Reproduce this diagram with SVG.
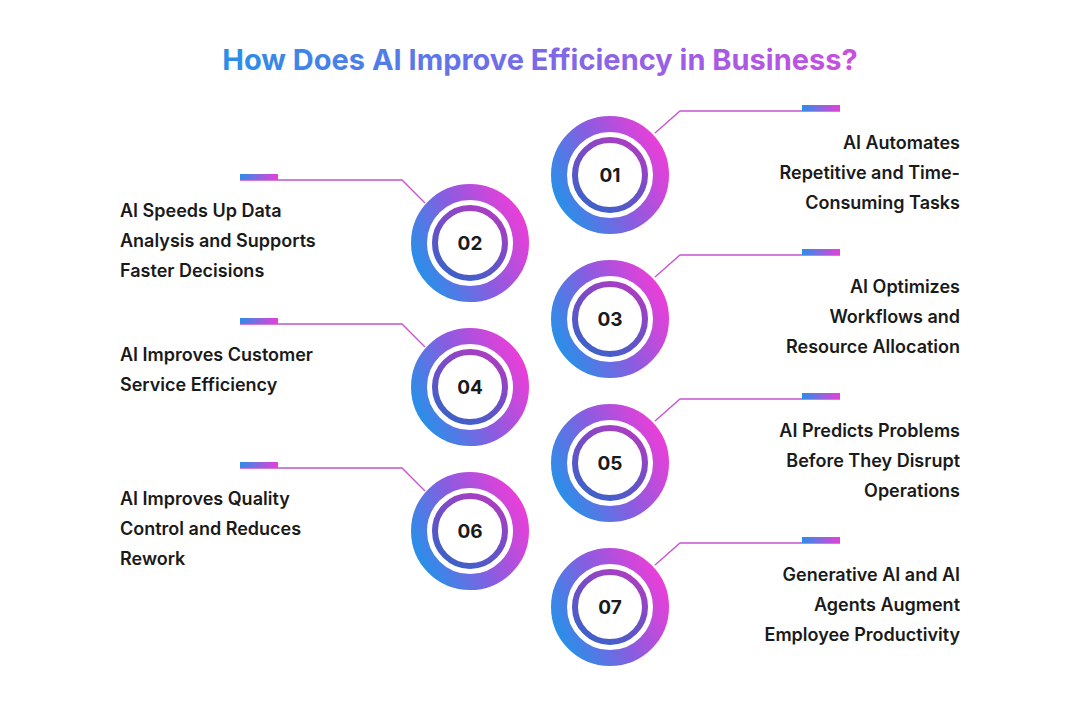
<svg xmlns="http://www.w3.org/2000/svg" width="1080" height="707" viewBox="0 0 1080 707">
<defs>
<linearGradient id="g" x1="0" y1="0.75" x2="1" y2="0.25"><stop offset="0" stop-color="#2b8ee8"/><stop offset="0.5" stop-color="#8a5ce0"/><stop offset="1" stop-color="#e83fd8"/></linearGradient>
<linearGradient id="gi" x1="0.2" y1="1" x2="0.8" y2="0"><stop offset="0" stop-color="#3a63c8"/><stop offset="0.5" stop-color="#6e4fc8"/><stop offset="1" stop-color="#b03cc0"/></linearGradient>
<linearGradient id="gb" x1="0" y1="0" x2="1" y2="0"><stop offset="0" stop-color="#2b8ee8"/><stop offset="1" stop-color="#e83fd8"/></linearGradient>
<linearGradient id="gt" x1="0" y1="0" x2="1" y2="0"><stop offset="0" stop-color="#2b8ee8"/><stop offset="0.5" stop-color="#7a6ae8"/><stop offset="1" stop-color="#c94fe0"/></linearGradient>
<g id="c"><circle r="51" fill="none" stroke="url(#g)" stroke-width="16"/><circle r="35" fill="none" stroke="url(#gi)" stroke-width="6"/></g>
</defs>
<style>
.t{font-family:Inter,"Noto Sans",sans-serif;font-size:18px;font-weight:600;fill:#1a1a1a}
.r{text-anchor:end}
.n{font-family:Inter,"Noto Sans",sans-serif;font-size:19px;font-weight:700;fill:#1a1a1a;text-anchor:middle}
.l{fill:none;stroke:#c850d0;stroke-width:1.3}
</style>
<rect width="1080" height="707" fill="#fff"/>
<text x="540" y="70" text-anchor="middle" font-family="Inter,'Noto Sans',sans-serif" font-size="29" font-weight="700" fill="url(#gt)">How Does AI Improve Efficiency in Business?</text>
<g id="connectors">
<path class="l" d="M655 133 L680 111 H840"/><rect x="802" y="105" width="38" height="6" fill="url(#gb)"/>
<path class="l" d="M655 277 L680 255 H840"/><rect x="802" y="249" width="38" height="6" fill="url(#gb)"/>
<path class="l" d="M655 421 L680 399 H840"/><rect x="802" y="393" width="38" height="6" fill="url(#gb)"/>
<path class="l" d="M655 565 L680 543 H840"/><rect x="802" y="537" width="38" height="6" fill="url(#gb)"/>
<path class="l" d="M425 203 L402 180 H240"/><rect x="240" y="174" width="38" height="6" fill="url(#gb)"/>
<path class="l" d="M425 347 L402 324 H240"/><rect x="240" y="318" width="38" height="6" fill="url(#gb)"/>
<path class="l" d="M425 491 L402 468 H240"/><rect x="240" y="462" width="38" height="6" fill="url(#gb)"/>
</g>
<g id="n01"><use href="#c" x="610" y="175"/><text class="n" x="610" y="182">01</text>
<text class="t r" x="960" y="149">AI Automates</text><text class="t r" x="960" y="179">Repetitive and Time-</text><text class="t r" x="960" y="209">Consuming Tasks</text></g>
<g id="n02"><use href="#c" x="470" y="243"/><text class="n" x="470" y="250">02</text>
<text class="t" x="120" y="217">AI Speeds Up Data</text><text class="t" x="120" y="247">Analysis and Supports</text><text class="t" x="120" y="277">Faster Decisions</text></g>
<g id="n03"><use href="#c" x="610" y="319"/><text class="n" x="610" y="326">03</text>
<text class="t r" x="960" y="293">AI Optimizes</text><text class="t r" x="960" y="323">Workflows and</text><text class="t r" x="960" y="353">Resource Allocation</text></g>
<g id="n04"><use href="#c" x="470" y="387"/><text class="n" x="470" y="394">04</text>
<text class="t" x="120" y="361">AI Improves Customer</text><text class="t" x="120" y="391">Service Efficiency</text></g>
<g id="n05"><use href="#c" x="610" y="463"/><text class="n" x="610" y="470">05</text>
<text class="t r" x="960" y="437">AI Predicts Problems</text><text class="t r" x="960" y="467">Before They Disrupt</text><text class="t r" x="960" y="497">Operations</text></g>
<g id="n06"><use href="#c" x="470" y="531"/><text class="n" x="470" y="538">06</text>
<text class="t" x="120" y="505">AI Improves Quality</text><text class="t" x="120" y="535">Control and Reduces</text><text class="t" x="120" y="565">Rework</text></g>
<g id="n07"><use href="#c" x="610" y="607"/><text class="n" x="610" y="614">07</text>
<text class="t r" x="960" y="581">Generative AI and AI</text><text class="t r" x="960" y="611">Agents Augment</text><text class="t r" x="960" y="641">Employee Productivity</text></g>
</svg>
